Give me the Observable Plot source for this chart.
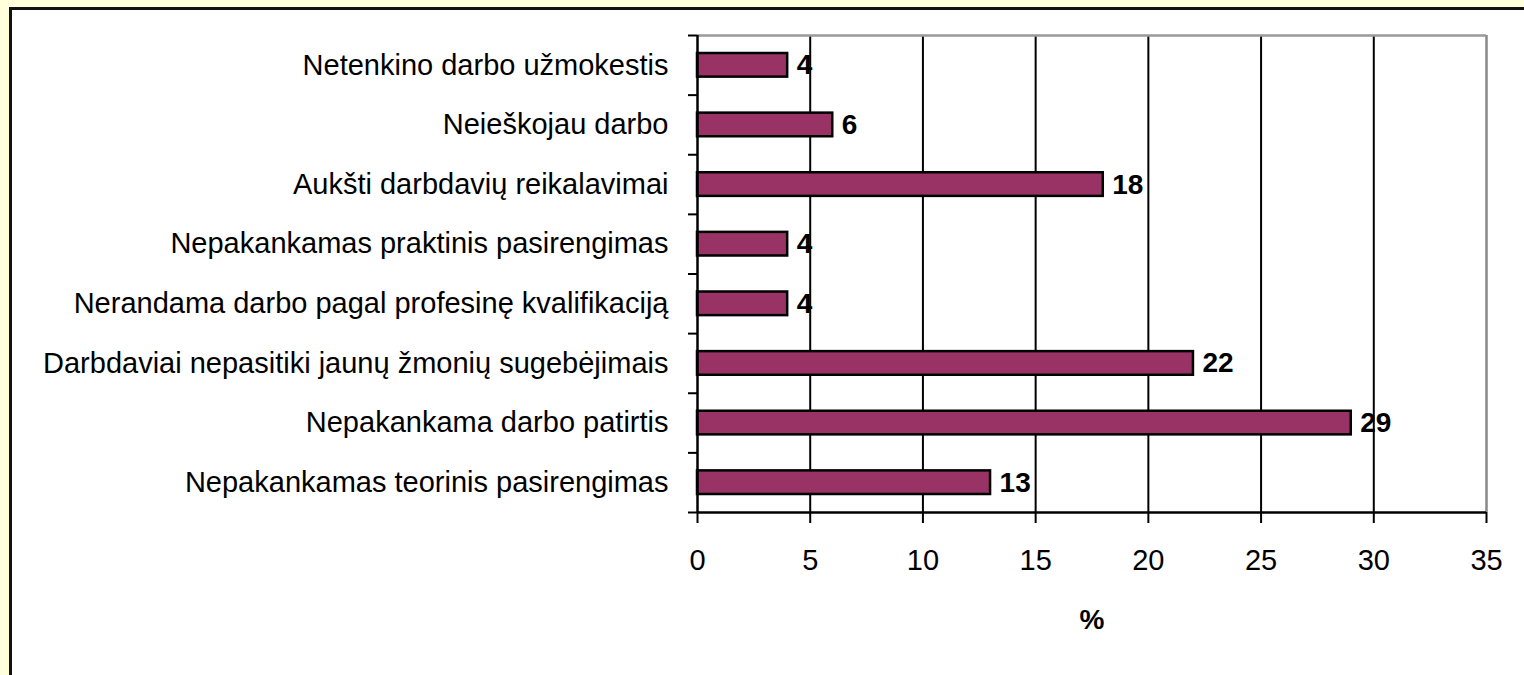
<!DOCTYPE html>
<html>
<head>
<meta charset="utf-8">
<script src="https://cdn.jsdelivr.net/npm/d3@7"></script>
<script src="https://cdn.jsdelivr.net/npm/@observablehq/plot@0.6"></script>
<style>
  html, body { margin: 0; padding: 0; }
  body { width: 1524px; height: 675px; background: #FFFFDC; position: relative; overflow: hidden; }
  #frame { position: absolute; left: 9px; top: 7px; right: 0; bottom: 0; background: #fff;
           border-left: 3px solid #111; border-top: 3px solid #111; }
  #chart { position: absolute; left: 0; top: 0; }
</style>
</head>
<body>
<div id="frame"></div>
<div id="chart"></div>
<script>
const categories = [
  "Netenkino darbo užmokestis",
  "Neieškojau darbo",
  "Aukšti darbdavių reikalavimai",
  "Nepakankamas praktinis pasirengimas",
  "Nerandama darbo pagal profesinę kvalifikaciją",
  "Darbdaviai nepasitiki jaunų žmonių sugebėjimais",
  "Nepakankama darbo patirtis",
  "Nepakankamas teorinis pasirengimas"
];
const values = [4, 6, 18, 4, 4, 22, 29, 13];
const xTicks = [0, 5, 10, 15, 20, 25, 30, 35];
const xLabel = "%";

const data = categories.map((c, i) => ({category: c, i, value: values[i]}));
const n = categories.length;

const chart = Plot.plot({
  width: 1524,
  height: 675,
  marginLeft: 697,
  marginRight: 38,
  marginTop: 35,
  marginBottom: 163,
  style: {fontFamily: "'Liberation Sans', Arial, sans-serif", fontSize: "29px", color: "black", background: "transparent"},
  x: {domain: [0, 35], label: null},
  y: {domain: [n, 0], label: null},
  marks: [
    Plot.ruleX(xTicks.filter(v => v > 0 && v < 35), {stroke: "black", strokeWidth: 2}),
    Plot.ruleX([35], {stroke: "#888", strokeWidth: 2.5}),
    Plot.ruleY([0], {stroke: "#999", strokeWidth: 2.5}),
    Plot.rectX(data, {
      x1: 0, x2: "value", y1: "i", y2: d => d.i + 1,
      insetTop: 18, insetBottom: 18,
      fill: "#993366", stroke: "black", strokeWidth: 2.5
    }),
    Plot.text(data, {
      x: "value", y: d => d.i + 0.5, text: d => String(d.value),
      dx: 9, textAnchor: "start", fontWeight: "bold", fontSize: 28, fill: "black"
    }),
    Plot.ruleX([0], {stroke: "black", strokeWidth: 2.5}),
    Plot.ruleY([n], {stroke: "black", strokeWidth: 2.5}),
    Plot.axisX({ticks: xTicks, tickSize: 11, tickPadding: 26, strokeWidth: 2, stroke: "black", label: null, fontSize: 29}),
    Plot.axisY({ticks: d3.range(n + 1), tickSize: 9, tickFormat: () => "", strokeWidth: 2, stroke: "black", label: null}),
    Plot.axisY({ticks: d3.range(n).map(i => i + 0.5), tickSize: 0, tickPadding: 29,
                tickFormat: v => categories[Math.floor(v)], label: null, fontSize: 29}),
    Plot.text([xLabel], {frameAnchor: "bottom", dy: 108, lineAnchor: "middle", text: d => d,
                         fontWeight: "bold", fontSize: 28, fill: "black"})
  ]
});
document.getElementById("chart").appendChild(chart);
</script>
</body>
</html>
